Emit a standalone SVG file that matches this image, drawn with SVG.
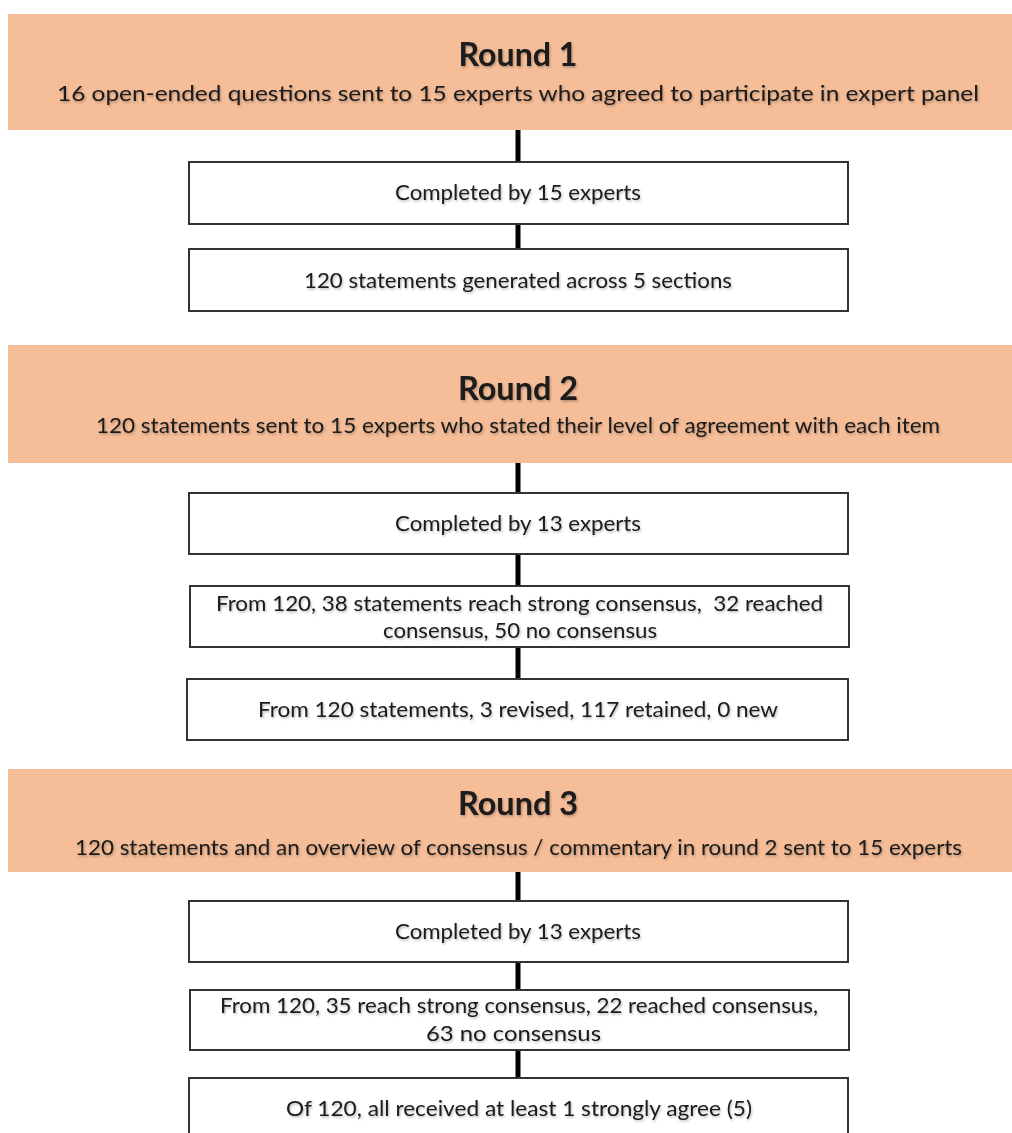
<svg xmlns="http://www.w3.org/2000/svg" width="1012" height="1133" viewBox="0 0 1012 1133">
  <defs>
    <filter id="soft" x="-5%" y="-30%" width="110%" height="160%">
      <feDropShadow dx="1" dy="1.5" stdDeviation="1" flood-color="#000" flood-opacity="0.28"/>
    </filter>
  </defs>
  <style>
    .band { fill: #F5BD98; }
    .box { fill: #ffffff; stroke: #333333; stroke-width: 2; }
    text { font-family: Lato, "Open Sans", "Liberation Sans", sans-serif; fill: #1a1a1a; text-anchor: middle; filter: url(#soft); }
    .title { font-size: 32px; font-weight: 700; }
    .sub { font-size: 21px; }
    .body { font-size: 21px; }
    .link { stroke: #000000; stroke-width: 5; fill: none; }
  </style>
  <rect width="1012" height="1133" fill="#ffffff"/>

  <!-- connectors -->
  <g id="connectors">
    <line class="link" x1="518" y1="130" x2="518" y2="162"/>
    <line class="link" x1="518" y1="224" x2="518" y2="249"/>
    <line class="link" x1="518" y1="463" x2="518" y2="493"/>
    <line class="link" x1="518" y1="554" x2="518" y2="586"/>
    <line class="link" x1="518" y1="647" x2="518" y2="679"/>
    <line class="link" x1="518" y1="872" x2="518" y2="901"/>
    <line class="link" x1="518" y1="962" x2="518" y2="990"/>
    <line class="link" x1="518" y1="1050" x2="518" y2="1078"/>
  </g>

  <!-- Round 1 -->
  <g id="round1">
    <rect class="band" x="8" y="14" width="1004" height="116"/>
    <text class="title" x="518" y="66" textLength="119" lengthAdjust="spacingAndGlyphs">Round 1</text>
    <text class="sub" x="518" y="101" textLength="922" lengthAdjust="spacingAndGlyphs">16 open-ended questions sent to 15 experts who agreed to participate in expert panel</text>
  </g>
  <g id="r1-completed">
    <rect class="box" x="189" y="162" width="659" height="62"/>
    <text class="body" x="518" y="200" textLength="246" lengthAdjust="spacingAndGlyphs">Completed by 15 experts</text>
  </g>
  <g id="r1-statements">
    <rect class="box" x="189" y="249" width="659" height="62"/>
    <text class="body" x="518" y="288" textLength="428" lengthAdjust="spacingAndGlyphs">120 statements generated across 5 sections</text>
  </g>

  <!-- Round 2 -->
  <g id="round2">
    <rect class="band" x="8" y="345" width="1004" height="118"/>
    <text class="title" x="518" y="400" textLength="120" lengthAdjust="spacingAndGlyphs">Round 2</text>
    <text class="sub" x="518" y="433" textLength="844" lengthAdjust="spacingAndGlyphs">120 statements sent to 15 experts who stated their level of agreement with each item</text>
  </g>
  <g id="r2-completed">
    <rect class="box" x="189" y="493" width="659" height="61"/>
    <text class="body" x="518" y="531" textLength="246" lengthAdjust="spacingAndGlyphs">Completed by 13 experts</text>
  </g>
  <g id="r2-consensus">
    <rect class="box" x="190" y="586" width="659" height="61"/>
    <text class="body" x="519.5" y="611" xml:space="preserve" textLength="607" lengthAdjust="spacingAndGlyphs">From 120, 38 statements reach strong consensus,  32 reached</text>
    <text class="body" x="520" y="638" textLength="274" lengthAdjust="spacingAndGlyphs">consensus, 50 no consensus</text>
  </g>
  <g id="r2-revisions">
    <rect class="box" x="187" y="679" width="661" height="61"/>
    <text class="body" x="518" y="717" textLength="520" lengthAdjust="spacingAndGlyphs">From 120 statements, 3 revised, 117 retained, 0 new</text>
  </g>

  <!-- Round 3 -->
  <g id="round3">
    <rect class="band" x="8" y="769" width="1004" height="103"/>
    <text class="title" x="518" y="815" textLength="120" lengthAdjust="spacingAndGlyphs">Round 3</text>
    <text class="sub" x="518.5" y="855" textLength="887" lengthAdjust="spacingAndGlyphs">120 statements and an overview of consensus / commentary in round 2 sent to 15 experts</text>
  </g>
  <g id="r3-completed">
    <rect class="box" x="189" y="901" width="659" height="61"/>
    <text class="body" x="518" y="939" textLength="246" lengthAdjust="spacingAndGlyphs">Completed by 13 experts</text>
  </g>
  <g id="r3-consensus">
    <rect class="box" x="190" y="990" width="659" height="60"/>
    <text class="body" x="519" y="1013" textLength="598" lengthAdjust="spacingAndGlyphs">From 120, 35 reach strong consensus, 22 reached consensus,</text>
    <text class="body" x="513.5" y="1041" textLength="175" lengthAdjust="spacingAndGlyphs">63 no consensus</text>
  </g>
  <g id="r3-agreement">
    <rect class="box" x="189" y="1078" width="659" height="70"/>
    <text class="body" x="519" y="1116" textLength="466" lengthAdjust="spacingAndGlyphs">Of 120, all received at least 1 strongly agree (5)</text>
  </g>
</svg>
